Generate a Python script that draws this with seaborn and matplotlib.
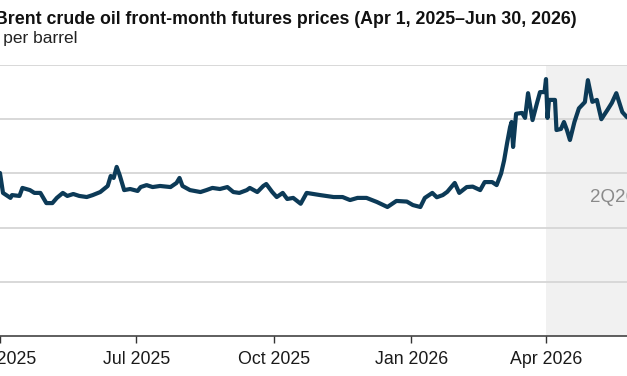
import matplotlib
matplotlib.use("Agg")
import matplotlib.pyplot as plt
import seaborn as sns
import pandas as pd

# Brent front-month futures (dollars per barrel)
dates = [
    "2025-04-01", "2025-04-03", "2025-04-08", "2025-04-09", "2025-04-14", "2025-04-16",
    "2025-04-21", "2025-04-24", "2025-04-28", "2025-05-02", "2025-05-06", "2025-05-09",
    "2025-05-13", "2025-05-16", "2025-05-20", "2025-05-24", "2025-05-29", "2025-06-02",
    "2025-06-07", "2025-06-12", "2025-06-14", "2025-06-16", "2025-06-18", "2025-06-20",
    "2025-06-23", "2025-06-27", "2025-07-02", "2025-07-04", "2025-07-08", "2025-07-12",
    "2025-07-17", "2025-07-24", "2025-07-28", "2025-07-30", "2025-08-01", "2025-08-06",
    "2025-08-13", "2025-08-17", "2025-08-21", "2025-08-26", "2025-08-31", "2025-09-04",
    "2025-09-08", "2025-09-13", "2025-09-15", "2025-09-20", "2025-09-24", "2025-09-26",
    "2025-09-30", "2025-10-03", "2025-10-07", "2025-10-10", "2025-10-14", "2025-10-19",
    "2025-10-23", "2025-11-01", "2025-11-10", "2025-11-16", "2025-11-21", "2025-11-26",
    "2025-12-02", "2025-12-09", "2025-12-16", "2025-12-22", "2025-12-29", "2026-01-02",
    "2026-01-07", "2026-01-10", "2026-01-15", "2026-01-18", "2026-01-22", "2026-01-25",
    "2026-01-30", "2026-02-02", "2026-02-07", "2026-02-11", "2026-02-16", "2026-02-19",
    "2026-02-24", "2026-02-27", "2026-03-02", "2026-03-04", "2026-03-06", "2026-03-08",
    "2026-03-09", "2026-03-10", "2026-03-12", "2026-03-16", "2026-03-18", "2026-03-20",
    "2026-03-23", "2026-03-26", "2026-03-28", "2026-03-31", "2026-04-01", "2026-04-02",
    "2026-04-03", "2026-04-07", "2026-04-08", "2026-04-11", "2026-04-13", "2026-04-15",
    "2026-04-17", "2026-04-20", "2026-04-23", "2026-04-27", "2026-04-29", "2026-05-02",
    "2026-05-05", "2026-05-08", "2026-05-12", "2026-05-15", "2026-05-18", "2026-05-22",
    "2026-05-25", "2026-05-28",
]
price = [
    75.2, 66.0, 63.7, 65.0, 64.6, 68.3,
    67.3, 66.0, 66.0, 61.3, 61.3, 63.7,
    66.0, 64.6, 65.5, 64.6, 64.1, 65.0,
    66.4, 69.2, 73.8, 72.9, 78.0, 74.2,
    67.3, 67.8, 66.9, 68.7, 69.6, 68.7,
    69.2, 68.7, 70.6, 72.9, 69.2, 67.3,
    66.4, 67.3, 68.3, 67.8, 68.7, 66.4,
    66.0, 67.3, 68.3, 66.4, 69.2, 70.1,
    66.4, 64.1, 66.0, 63.2, 63.7, 61.0,
    66.0, 65.0, 64.1, 64.1, 62.7, 63.7,
    63.7, 61.8, 59.5, 62.3, 62.0, 60.4,
    59.5, 63.7, 66.0, 64.0, 65.0, 66.5,
    70.6, 66.0, 68.7, 68.9, 67.3, 71.0,
    71.0, 69.6, 75.0, 81.0, 89.0, 96.4,
    98.7, 87.2, 102.5, 102.9, 100.6, 112.0,
    99.6, 107.5, 112.5, 112.5, 118.5, 100.6,
    108.9, 108.9, 95.0, 95.5, 98.7, 95.0,
    90.4, 98.7, 105.0, 107.9, 118.0, 108.0,
    108.9, 100.0, 104.2, 107.5, 112.0, 103.3,
    101.0, 100.0,
]
yticks = [0, 25, 50, 75, 100, 125]
xticks = ["2025-04-01", "2025-07-01", "2025-10-01", "2026-01-01", "2026-04-01", "2026-07-01"]
xtick_labels = ["Apr 2025", "Jul 2025", "Oct 2025", "Jan 2026", "Apr 2026", "Jul 2026"]
shade_start, shade_end = "2026-04-01", "2026-06-30"

df = pd.DataFrame({"date": pd.to_datetime(dates), "price": price})

sns.set_theme(style="white")
plt.rcParams["font.family"] = ["Liberation Sans", "DejaVu Sans"]

W, H = 627, 376
fig = plt.figure(figsize=(W / 100, H / 100), dpi=100)

# the picture is a crop: plot area runs past both edges
px_per_day = 546 / 365
x0 = pd.Timestamp("2025-03-20")
x1 = pd.Timestamp("2026-07-05")
left_px = (x0 - pd.Timestamp("2025-04-01")).days * px_per_day
width_px = (x1 - x0).days * px_per_day
top_px, bottom_px = 65, 336
ax = fig.add_axes([left_px / W, 1 - bottom_px / H, width_px / W, (bottom_px - top_px) / H])

ax.axvspan(pd.Timestamp(shade_start), pd.Timestamp(shade_end), color="#f1f1f1", lw=0, zorder=0)
for v in yticks[1:]:
    ax.axhline(v, color="#d6d6d6", lw=1.3, zorder=1)

sns.lineplot(data=df, x="date", y="price", ax=ax, color="#0c3a57", lw=3.0,
             zorder=3, solid_capstyle="round", solid_joinstyle="round")

ax.set_xlim(x0, x1)
ax.set_ylim(0, 125)
ax.set_yticks([])
ax.set_xticks(pd.to_datetime(xticks))
ax.set_xticklabels(xtick_labels, fontsize=12.8, color="#1a1a1a")
ax.tick_params(axis="x", length=5, width=1, color="#333333", pad=6, bottom=True)
for s in ["left", "right", "top"]:
    ax.spines[s].set_visible(False)
ax.spines["bottom"].set_color("#333333")
ax.spines["bottom"].set_linewidth(1.1)
ax.set_xlabel("")
ax.set_ylabel("")

mid = pd.Timestamp(shade_start) + (pd.Timestamp(shade_end) - pd.Timestamp(shade_start)) / 2
ax.text(mid, 64, "2Q26", ha="center", va="center", fontsize=13.5, color="#8a8a8a", zorder=2)

fig.text(-5 / W, 1 - 24 / H, "Brent crude oil front-month futures prices (Apr 1, 2025\u2013Jun 30, 2026)",
         fontsize=12.75, fontweight="bold", color="#111111", va="baseline", ha="left")

# subtitle: put "per" at x~3px, hidden prefix runs off the left edge
sub_size = 12.5
fig.canvas.draw()
r = fig.canvas.get_renderer()
probe = fig.text(0, 0, "dollars ", fontsize=sub_size)
pw = probe.get_window_extent(r).width
probe.remove()
fig.text((3 - pw) / W, 1 - 43 / H, "dollars per barrel", fontsize=sub_size, color="#222222",
         va="baseline", ha="left")

fig.savefig("out.png", dpi=100)
